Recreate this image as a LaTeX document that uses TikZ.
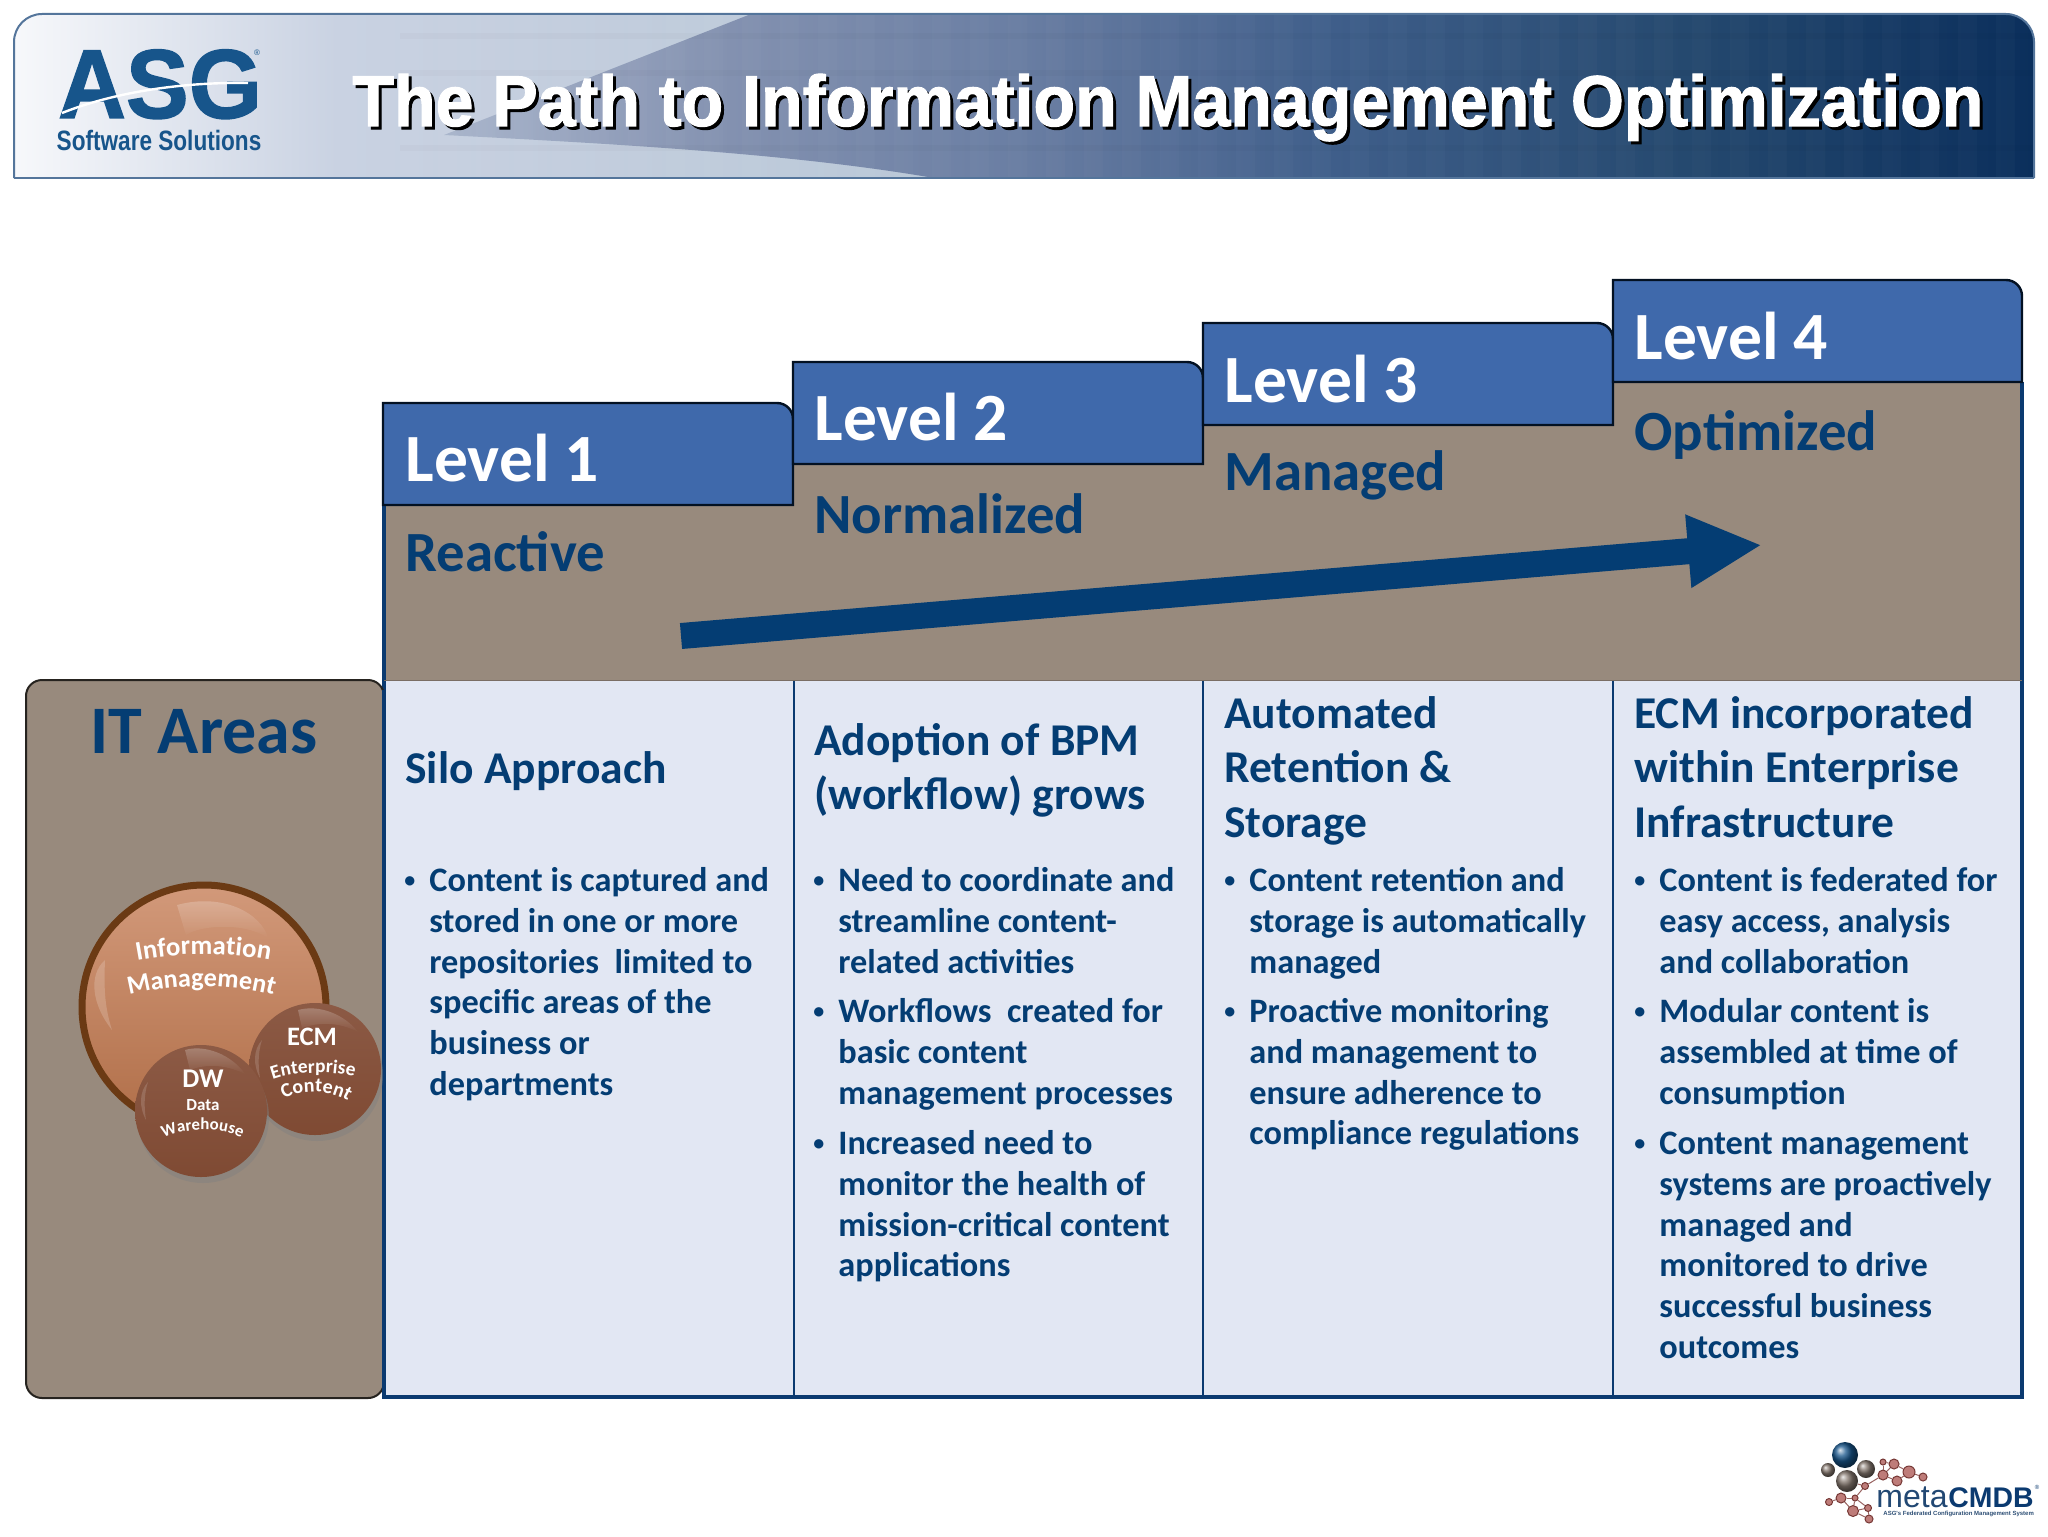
\documentclass[tikz,border=0pt]{standalone}
\usepackage{fontspec}
\usepackage{xcolor}
\usepackage{tikz}
\setmainfont{Carlito}
\newfontfamily\arialfont{Liberation Sans}
\newfontfamily\heavyfont[BoldFeatures={FakeBold=1.5}]{Liberation Sans}
\usetikzlibrary{arrows.meta, decorations.text, fadings, positioning, shadows}

\definecolor{navy}{HTML}{043D73}
\definecolor{edgeblue}{HTML}{0B3A70}
\definecolor{tabblue}{HTML}{3F69AB}
\definecolor{taupe}{HTML}{988A7D}
\definecolor{paleblue}{HTML}{E2E7F3}
\definecolor{logoblue}{HTML}{17558B}
\definecolor{ballred}{HTML}{A8504C}
\definecolor{ballgray}{HTML}{85786F}
\definecolor{bigtop}{HTML}{D2997A}
\definecolor{bigmid}{HTML}{9C5A38}
\definecolor{bigbot}{HTML}{B06E48}
\definecolor{bigring}{HTML}{6B3A14}
\definecolor{smalltop}{HTML}{8C5A45}
\definecolor{smallmid}{HTML}{7B4530}
\definecolor{smallbot}{HTML}{7F4A33}
\definecolor{hba}{HTML}{F7F8FB}
\definecolor{hbb}{HTML}{C9D2E2}
\definecolor{hbc}{HTML}{B7C6D6}
\definecolor{hsa}{HTML}{A9B5CB}
\definecolor{hsb}{HTML}{8391B0}
\definecolor{hsc}{HTML}{6A7EA3}
\definecolor{hsd}{HTML}{3F5E8A}
\definecolor{hse}{HTML}{25496F}
\definecolor{hsf}{HTML}{0B2F5C}

\pgfdeclarehorizontalshading{headbase}{100bp}{color(0bp)=(hba); color(25bp)=(hba); color(33bp)=(hbb); color(50bp)=(hbc); color(100bp)=(hbc)}
\pgfdeclarehorizontalshading{headswoosh}{100bp}{color(0bp)=(hsa); color(25bp)=(hsa); color(34bp)=(hsb); color(43bp)=(hsc); color(53bp)=(hsd); color(64bp)=(hse); color(75bp)=(hsf); color(100bp)=(hsf)}

\newcommand{\bul}{\llap{\raisebox{2pt}{\fontsize{11}{11}\selectfont\textbullet}\hspace{7pt}}\rule{0pt}{12pt}}
\newcommand{\headline}{\rule{0pt}{16pt}}

\tikzset{
    leveltab/.style={draw=black!70!edgeblue, line width=1.2pt, fill=tabblue},
    leveltext/.style={anchor=base west, inner sep=0pt, text=white, font=\bfseries\fontsize{33.8}{40}\selectfont},
    statetext/.style={anchor=base west, inner sep=0pt, text=navy, font=\bfseries\fontsize{28.4}{34}\selectfont},
    headtext/.style={anchor=north west, inner sep=0pt, align=left, text=navy, font=\bfseries\fontsize{22.75}{27.25}\selectfont},
    itemtext/.style={anchor=north west, inner sep=0pt, align=left, text=navy, font=\bfseries\fontsize{17.15}{20.4}\selectfont},
    titletext/.style={anchor=base west, inner sep=0pt, font=\heavyfont\bfseries\fontsize{36}{40}\selectfont},
    bigball/.style={circle, draw=bigring, line width=3.5pt, minimum size=122pt, inner sep=0pt,
        top color=bigtop, middle color=bigmid, bottom color=bigbot,
        drop shadow={shadow xshift=2pt, shadow yshift=-3pt, opacity=.35}},
    smallball/.style={circle, minimum size=66pt, inner sep=0pt,
        top color=smalltop, middle color=smallmid, bottom color=smallbot,
        drop shadow={shadow xshift=1pt, shadow yshift=-3pt, opacity=.45}},
    gloss/.style={fill=white, fill opacity=.28, draw=none, path fading=south},
    curved/.style={decorate, decoration={text along path, text align=center, text={#1}}},
    balllabel/.style={inner sep=0pt, text=white, font=\bfseries\fontsize{#1}{#1}\selectfont},
    redatom/.style={circle, inner sep=0pt, draw=ballred!70!black, line width=.5pt, fill=ballred!75!white},
    grayatom/.style={circle, inner sep=0pt, ball color=ballgray},
    bond/.style={draw=ballred!60!gray, line width=.5pt},
}

\begin{document}
\begin{tikzpicture}[x=.5pt, y=-.5pt]
    \useasboundingbox (0,0) rectangle (2048,1536);

    % header bar
    \begin{scope}
        \clip[rounded corners=14pt] (14,200) -- (14,14) -- (2034,14) -- (2034,200) -- (14,200) -- cycle;
        \clip (0,0) rectangle (2048,178);
        \shade[shading=headbase] (14,14) rectangle (2034,178);
        \shade[shading=headswoosh] (751,14) -- (444,135) .. controls (640,145) and (800,155) .. (934,178)
            -- (2034,178) -- (2034,14) -- cycle;
        \foreach \tilex in {400,438,...,2020} {
            \fill[white, opacity=.02] (\tilex,14) rectangle ++(19,164);
        }
        \foreach \tiley in {33,70,145} {
            \fill[black, opacity=.02] (400,\tiley) rectangle (2034,\tiley+6);
        }
    \end{scope}
    \draw[edgeblue!70!white, line width=1pt, rounded corners=14pt] (14,178) -- (14,14) -- (2034,14) -- (2034,178);
    \draw[edgeblue!70!white, line width=1pt] (14,178) -- (2034,178);

    % logo
    \node[anchor=base, inner sep=0pt, text=logoblue, font=\heavyfont\bfseries\fontsize{49}{50}\selectfont] (asg) at (160,118) {\scalebox{.96}[1]{ASG}};
    \node[anchor=center, inner sep=0pt, text=logoblue, font=\arialfont\fontsize{4}{4}\selectfont] (asgmark) at (257,53) {®};
    \draw[white, line width=1.2pt] (62,113) .. controls (120,90) and (190,82) .. (248,83);
    \node[anchor=base, inner sep=0pt, text=logoblue, font=\arialfont\bfseries\fontsize{14}{16}\selectfont] (asgsub) at (159,150) {\scalebox{.807}[1]{Software Solutions}};

    % title
    \node[titletext, text=black] (titleshadow) at (355,129) {\scalebox{.946}[1]{The Path to Information Management Optimization}};
    \node[titletext, text=white] (title) at (352,126) {\scalebox{.946}[1]{The Path to Information Management Optimization}};

    % brown stairs and the table under them
    \fill[taupe] (384,505) -- (793,505) -- (793,464) -- (1203,464) -- (1203,425) -- (1613,425) -- (1613,382)
        -- (2022,382) -- (2022,680) -- (384,680) -- cycle;
    \fill[paleblue] (384,680) rectangle (2022,1397);
    \draw[edgeblue, line width=1pt] (794,680) -- (794,1397)
        (1203,680) -- (1203,1397)
        (1613,680) -- (1613,1397);
    \draw[edgeblue, line width=1.6pt] (384,505) -- (384,1397) -- (2022,1397) -- (2022,382);
    \draw[taupe!80!black, line width=.5pt] (384,680) -- (2022,680);

    \draw[leveltab] (383,505) -- (383,403) [rounded corners=8pt] -- (793,403) [sharp corners] -- (793,505) -- cycle;
    \draw[leveltab] (793,464) -- (793,362) [rounded corners=8pt] -- (1203,362) [sharp corners] -- (1203,464) -- cycle;
    \draw[leveltab] (1203,425) -- (1203,323) [rounded corners=8pt] -- (1613,323) [sharp corners] -- (1613,425) -- cycle;
    \draw[leveltab] (1613,382) -- (1613,280) [rounded corners=8pt] -- (2022,280) [sharp corners] -- (2022,382) -- cycle;

    \node[leveltext] (level1) at (405,481) {Level 1};
    \node[leveltext] (level2) at (814,440) {Level 2};
    \node[leveltext] (level3) at (1224,402) {Level 3};
    \node[leveltext] (level4) at (1634,359) {Level 4};

    \node[statetext] (reactive) at (405,571) {Reactive};
    \node[statetext] (normalized) at (814,533) {Normalized};
    \node[statetext] (managed) at (1224,490) {Managed};
    \node[statetext] (optimized) at (1634,450) {Optimized};

    % rising arrow
    \coordinate (arrowstart) at (681,636);
    \coordinate (arrowtip) at (1762,545);
    \draw[-{Triangle[length=37pt, width=34pt]}, navy, line width=13pt] (arrowstart) -- (arrowtip);

    % column texts
    \node[headtext] (silo) at (405,751) {\headline Silo Approach};
    \node[headtext] (bpm) at (814,723) {\headline Adoption of BPM\\(workflow) grows};
    \node[headtext] (retention) at (1224,696) {\headline Automated\\Retention \&\\Storage};
    \node[headtext] (ecm) at (1634,696) {\headline ECM incorporated\\within Enterprise\\Infrastructure};

    \node[itemtext] (silo1) at (429,867) {\bul Content is captured and\\stored in one or more\\repositories\ \ limited to\\specific areas of the\\business or\\departments};

    \node[itemtext] (bpm1) at (838,867) {\bul Need to coordinate and\\streamline content-\\related activities};
    \node[itemtext] (bpm2) at (838,998) {\bul Workflows\ \ created for\\basic content\\management processes};
    \node[itemtext] (bpm3) at (838,1130) {\bul Increased need to\\monitor the health of\\mission-critical content\\applications};

    \node[itemtext] (ret1) at (1249,867) {\bul Content retention and\\storage is automatically\\managed};
    \node[itemtext] (ret2) at (1249,998) {\bul Proactive monitoring\\and management to\\ensure adherence to\\compliance regulations};

    \node[itemtext] (ecm1) at (1659,867) {\bul Content is federated for\\easy access, analysis\\and collaboration};
    \node[itemtext] (ecm2) at (1659,998) {\bul Modular content is\\assembled at time of\\consumption};
    \node[itemtext] (ecm3) at (1659,1130) {\bul Content management\\systems are proactively\\managed and\\monitored to drive\\successful business\\outcomes};

    % IT areas box
    \draw[draw=black!75!taupe, line width=1pt, fill=taupe, rounded corners=8pt] (26,680) rectangle (384,1398);
    \draw[edgeblue, line width=1.6pt] (384,690) -- (384,1397);
    \node[anchor=base, inner sep=0pt, text=navy, font=\bfseries\fontsize{34}{38}\selectfont] (itareas) at (204,753) {IT Areas};

    % spheres
    \node[bigball] (infoball) at (204,1007) {};
    \fill[gloss] (177,905) .. controls (225,892) and (262,915) .. (268,938) .. controls (245,922) and (200,925) .. (186,935) -- cycle;
    \fill[white, opacity=.18] (105,960) .. controls (88,975) and (92,1005) .. (112,1030) .. controls (104,1005) and (104,985) .. (105,960) -- cycle;
    \path[curved={|\bfseries\fontsize{13.4}{14}\selectfont\color{white}|Information}] (134,961) .. controls (180,952) and (228,952) .. (273,961);
    \path[curved={|\bfseries\fontsize{13.1}{14}\selectfont\color{white}|Management}] (126,996) .. controls (175,983) and (232,983) .. (277,996);

    \node[smallball] (ecmball) at (315,1069) {};
    \fill[gloss] (298,1010) .. controls (320,1004) and (345,1015) .. (358,1032) .. controls (340,1022) and (318,1022) .. (302,1028) -- cycle;
    \fill[white, opacity=.15] (262,1040) .. controls (253,1050) and (253,1065) .. (260,1078) .. controls (258,1065) and (258,1052) .. (262,1040) -- cycle;
    \node[balllabel=13.3] (ecmname) at (312,1037) {ECM};
    \path[curved={|\bfseries\fontsize{9.7}{11}\selectfont\color{white}|Enterprise}] (272,1080) .. controls (295,1071) and (332,1071) .. (355,1077);
    \path[curved={|\bfseries\fontsize{10}{11}\selectfont\color{white}|Content}] (282,1100) .. controls (300,1089) and (330,1089) .. (350,1102);

    \node[smallball] (dwball) at (201,1111) {};
    \fill[gloss] (185,1050) .. controls (205,1044) and (232,1055) .. (245,1074) .. controls (225,1064) and (205,1064) .. (190,1070) -- cycle;
    \fill[white, opacity=.15] (148,1082) .. controls (139,1092) and (139,1107) .. (146,1120) .. controls (144,1107) and (144,1094) .. (148,1082) -- cycle;
    \node[balllabel=13.5] (dwname) at (203,1079) {DW};
    \node[balllabel=8.5] (dwdata) at (203,1105) {Data};
    \path[curved={|\bfseries\fontsize{8.4}{10}\selectfont\color{white}|Warehouse}] (163,1138) .. controls (185,1127) and (222,1127) .. (242,1138);

    % metaCMDB logo
    \node[redatom, minimum size=3pt] (r1) at (1883,1462) {};
    \node[redatom, minimum size=5pt] (r2) at (1894,1464) {};
    \node[redatom, minimum size=5pt] (r3) at (1883,1475) {};
    \node[redatom, minimum size=6pt] (r4) at (1909,1472) {};
    \node[redatom, minimum size=5pt] (r5) at (1897,1481) {};
    \node[redatom, minimum size=4pt] (r6) at (1923,1477) {};
    \node[redatom, minimum size=3.5pt] (r7) at (1865,1486) {};
    \node[redatom, minimum size=3pt] (r8) at (1855,1498) {};
    \node[redatom, minimum size=5pt] (r9) at (1841,1498) {};
    \node[redatom, minimum size=3.5pt] (r10) at (1829,1502) {};
    \node[redatom, minimum size=5.5pt] (r11) at (1853,1511) {};
    \node[redatom, minimum size=3.5pt] (r12) at (1868,1508) {};
    \node[redatom, minimum size=4pt] (r13) at (1869,1519) {};
    \node[grayatom, minimum size=7pt] (g1) at (1828,1470) {};
    \node[grayatom, minimum size=9pt] (g2) at (1866,1469) {};
    \node[circle, inner sep=0pt, minimum size=13pt, ball color=logoblue] (b1) at (1845,1455) {};
    \node[grayatom, minimum size=11pt] (g3) at (1847,1481) {};
    \foreach \bonda/\bondb in {r1/r2, r1/r3, r2/r3, r3/r5, r2/r4, r4/r5, r4/r6, r3/r7, r7/g3, r7/r8, r8/r9, r9/r10, r8/r11, r9/r11, r11/r12, r11/r13, r12/r13, r8/r12} {
        \draw[bond] (\bonda) -- (\bondb);
    }
    \node[anchor=base west, inner sep=0pt, text=edgeblue!80!gray, font=\arialfont\fontsize{16}{18}\selectfont] (metaword) at (1876,1507) {meta};
    \node[anchor=base west, inner sep=0pt, text=edgeblue, font=\arialfont\bfseries\fontsize{14.2}{16}\selectfont] (cmdbword) at (metaword.base east) {CMDB};
    \node[anchor=center, inner sep=0pt, text=edgeblue, font=\arialfont\fontsize{3}{3}\selectfont] (cmdbmark) at (2037,1487) {®};
    \node[anchor=base west, inner sep=0pt, text=edgeblue!70!gray, font=\arialfont\bfseries\fontsize{3}{4}\selectfont] (cmdbsub) at (1883,1515) {ASG's Federated Configuration Management System};
\end{tikzpicture}
\end{document}
